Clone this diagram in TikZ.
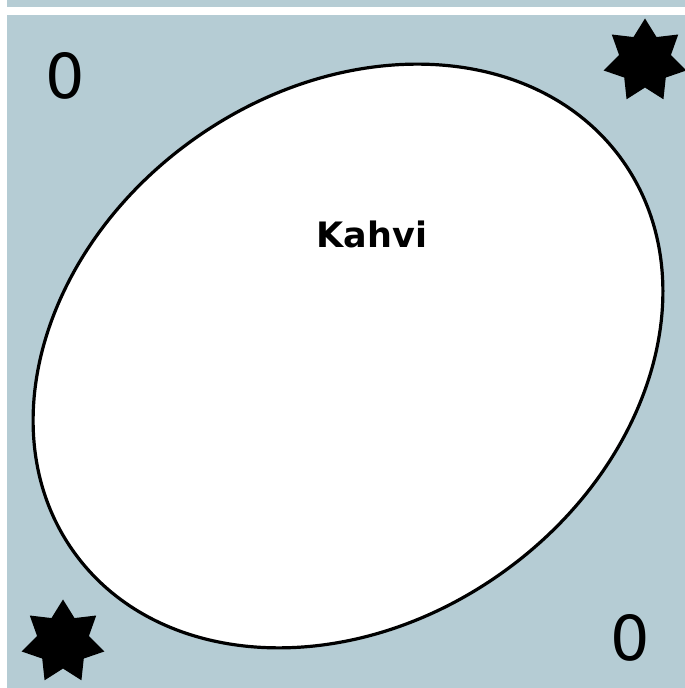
\documentclass[tikz,border=0pt]{standalone}
\usepackage{fontspec}
\setmainfont{DejaVu Sans}
\usetikzlibrary{shapes.geometric}
\definecolor{PanelBlue}{RGB}{181,204,212}
\tikzset{
  panel/.style={fill=PanelBlue,draw=none},
  blob/.style={draw=black,line width=3.2pt,fill=white},
  digit/.style={font=\fontsize{62}{62}\selectfont,inner sep=0pt},
  title/.style={font=\bfseries\fontsize{35}{35}\selectfont,inner sep=0pt,anchor=base},
  burst/.style={star,star points=7,star point ratio=1.6,minimum size=85pt,inner sep=0pt,fill=black},
}
\begin{document}
\begin{tikzpicture}[x=1pt,y=1pt]
    \useasboundingbox (0,0) rectangle (685,688);
    \fill[panel] (7,681) rectangle (685,688);
    \fill[panel] (7,0) rectangle (685,673);
    \draw[blob,rotate around={35.5:(348,332)}] (348,332) ellipse [x radius=337,y radius=266];
    \node[title] (kahvi) at (372,440) {Kahvi};
    \node[digit] (zl) at (65,612) {0};
    \node[digit] (zr) at (630,50) {0};
    \node[burst] (sr) at (645,627) {};
    \node[burst] (sl) at (63,46) {};
  \end{tikzpicture}
\end{document}
